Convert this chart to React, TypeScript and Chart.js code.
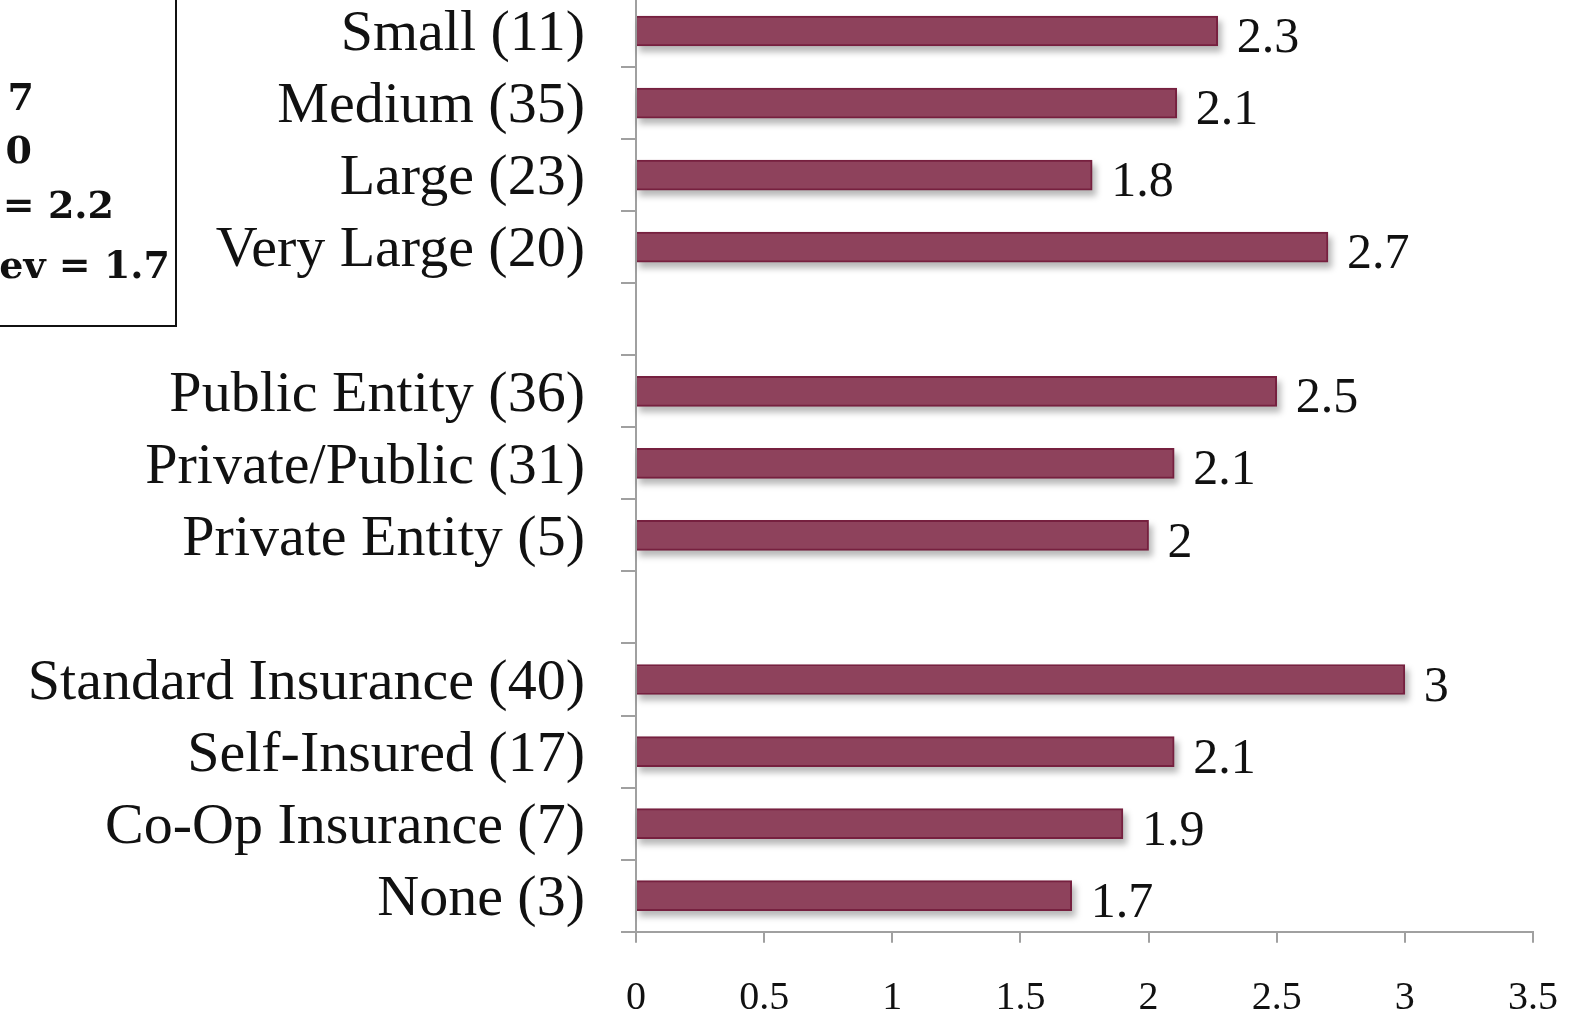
import React, { useEffect, useRef } from "react";
import { Chart, registerables } from "chart.js";

Chart.register(...registerables);

const categories: string[] = [
  "Small (11)",
  "Medium (35)",
  "Large (23)",
  "Very Large (20)",
  "",
  "Public Entity (36)",
  "Private/Public (31)",
  "Private Entity (5)",
  "",
  "Standard Insurance (40)",
  "Self-Insured (17)",
  "Co-Op Insurance (7)",
  "None (3)",
];

const values: (number | null)[] = [2.27, 2.11, 1.78, 2.7, null, 2.5, 2.1, 2, null, 3, 2.1, 1.9, 1.7];

const valueLabels: string[] = ["2.3", "2.1", "1.8", "2.7", "", "2.5", "2.1", "2", "", "3", "2.1", "1.9", "1.7"];

const xTickLabels: string[] = ["0", "0.5", "1", "1.5", "2", "2.5", "3", "3.5"];

const statFragments: string[] = ["7", "0", "= 2.2", "ev = 1.7"];

const FONT = "'Liberation Serif', 'DejaVu Serif', serif";
const BOXFONT = "'DejaVu Serif', serif";
const W = 1579;
const H = 1018;
const SHIFT = 40;

const shadowPlugin = {
  id: "barShadow",
  beforeDatasetsDraw(chart: any) {
    const ctx = chart.ctx;
    const meta = chart.getDatasetMeta(0);
    ctx.save();
    ctx.filter = "blur(3px)";
    ctx.fillStyle = "rgba(0,0,0,0.28)";
    meta.data.forEach((el: any, i: number) => {
      if (values[i] === null) return;
      const p = el.getProps(["x", "y", "base", "height"], true);
      const top = p.y - p.height / 2;
      ctx.fillRect(p.base + 2, top + 5, p.x - p.base + 2, p.height + 1);
    });
    ctx.restore();
  },
};

const labelsPlugin = {
  id: "valueLabels",
  afterDraw(chart: any) {
    const ctx = chart.ctx;
    const meta = chart.getDatasetMeta(0);
    ctx.save();
    ctx.font = `50px ${FONT}`;
    ctx.fillStyle = "#111";
    ctx.textAlign = "left";
    ctx.textBaseline = "middle";
    meta.data.forEach((el: any, i: number) => {
      const t = valueLabels[i];
      if (values[i] === null || !t) return;
      ctx.fillText(t, el.x + 19, el.y + 8);
    });
    ctx.restore();

    // stats box (cut off at left edge)
    ctx.save();
    ctx.strokeStyle = "#111";
    ctx.lineWidth = 2;
    ctx.beginPath();
    ctx.moveTo(176, 0);
    ctx.lineTo(176, 326 + SHIFT);
    ctx.lineTo(-10, 326 + SHIFT);
    ctx.stroke();
    ctx.fillStyle = "#111";
    ctx.font = `bold 38px ${BOXFONT}`;
    ctx.textAlign = "right";
    ctx.textBaseline = "middle";
    const rights = [34, 32, 114, 170];
    const ys = [100, 153, 208, 268];
    statFragments.forEach((t, i) => {
      ctx.fillText(t, rights[i], ys[i] + SHIFT);
    });
    ctx.restore();
  },
};

export default function App() {
  const ref = useRef<HTMLCanvasElement | null>(null);

  useEffect(() => {
    document.body.style.margin = "0";
    const canvas = ref.current!;
    const chart = new Chart(canvas, {
      type: "bar",
      data: {
        labels: categories,
        datasets: [
          {
            data: values as any,
            backgroundColor: "#8e425c",
            borderColor: "#76203f",
            borderWidth: 2,
            barThickness: 30,
          },
        ],
      },
      options: {
        indexAxis: "y",
        animation: false,
        responsive: false,
        devicePixelRatio: 1,
        layout: { padding: { top: SHIFT - 5, right: W - 1533, left: 0, bottom: 0 } },
        plugins: {
          legend: { display: false },
          tooltip: { enabled: false },
          title: { display: false },
        },
        scales: {
          x: {
            min: 0,
            max: 3.5,
            ticks: {
              stepSize: 0.5,
              color: "#111",
              font: { family: FONT, size: 40 },
              padding: 32,
              maxRotation: 0,
              callback: (_v: any, i: number) => xTickLabels[i],
            },
            grid: {
              drawOnChartArea: false,
              color: "#a0a0a0",
              lineWidth: 2,
              tickLength: 11,
            },
            border: { color: "#a0a0a0", width: 2 },
            afterFit: (scale: any) => {
              scale.height = H - 931.7;
              scale.paddingLeft = 0;
              scale.paddingRight = 0;
            },
          },
          y: {
            offset: true,
            ticks: {
              color: "#111",
              font: { family: FONT, size: 58 },
              padding: 36,
              labelOffset: 4,
              autoSkip: false,
            },
            grid: {
              offset: true,
              drawOnChartArea: false,
              color: "#a0a0a0",
              lineWidth: 2,
              tickLength: 15,
            },
            border: { color: "#a0a0a0", width: 2 },
            afterFit: (scale: any) => {
              scale.width = 636;
              scale.paddingTop = 0;
              scale.paddingBottom = 0;
            },
          },
        },
      },
      plugins: [shadowPlugin, labelsPlugin],
    });
    return () => chart.destroy();
  }, []);

  return (
    <div style={{ position: "relative", width: W, height: H, overflow: "hidden", background: "#fff" }}>
      <canvas
        ref={ref}
        width={W}
        height={H + SHIFT}
        style={{ position: "absolute", left: 0, top: -SHIFT, width: W, height: H + SHIFT }}
      />
    </div>
  );
}
